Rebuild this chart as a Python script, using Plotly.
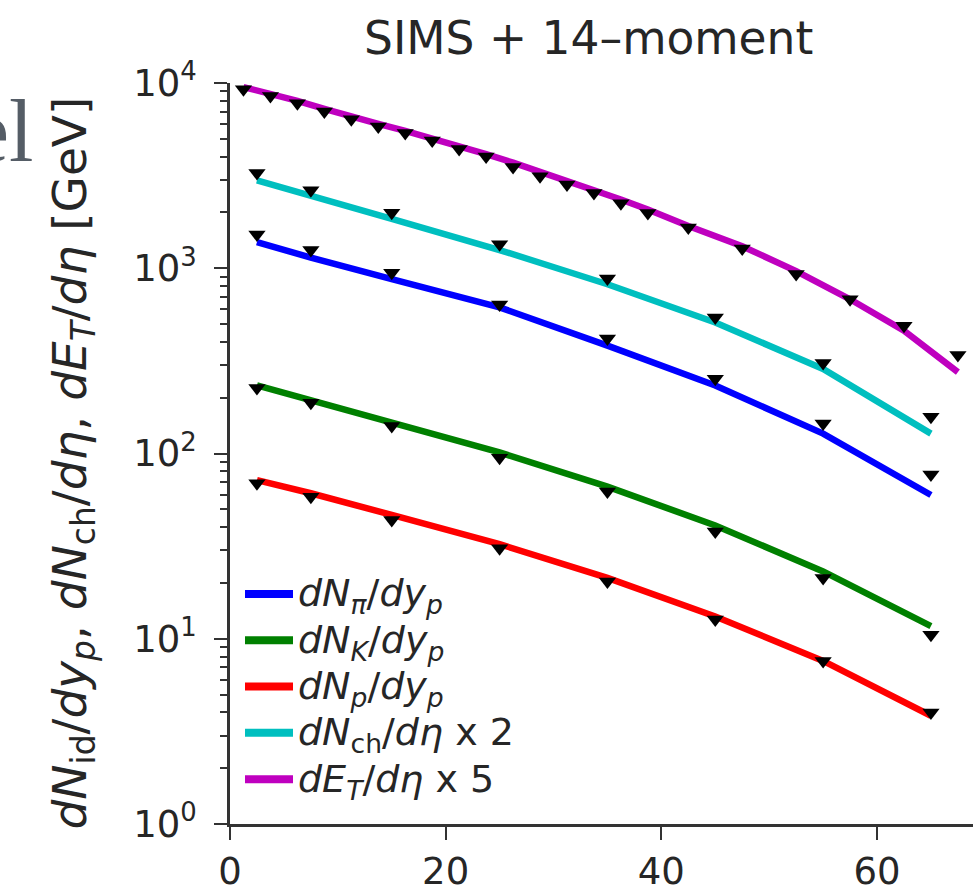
import numpy as np
import plotly.graph_objects as go

# Centrality (%) bin centres
cent_et = [1.25, 3.75, 6.25, 8.75, 11.25, 13.75, 16.25, 18.75, 21.25, 23.75, 26.25,
           28.75, 31.25, 33.75, 36.25, 38.75, 42.5, 47.5, 52.5, 57.5, 62.5, 67.5]
cent = [2.5, 7.5, 15, 25, 35, 45, 55, 65]

# Measured values
data_pi = [1523, 1254, 946, 637, 418, 253, 145, 77]
data_k = [225.6, 188, 140.9, 94.8, 62.3, 37.9, 21.3, 10.5]
data_p = [69.0, 58.5, 43.8, 30.8, 20.4, 12.7, 7.59, 4.0]
data_ch = [1635, 1318, 997, 673, 440, 271, 154, 79]
data_et = [1850, 1702, 1556, 1402, 1276, 1164, 1074, 980, 880, 802, 704,
           628, 566, 510, 448, 398, 332, 256, 186, 136, 98, 68]

# SIMS + 14-moment model curves
model_pi = [1385, 1141, 873, 615, 382, 233, 128, 59.7]
model_k = [233, 193.4, 146.8, 101.3, 66.2, 40.9, 23.1, 11.7]
model_p = [71.9, 61.0, 46.6, 32.4, 21.3, 13.2, 7.59, 3.84]
model_ch = [1492, 1224, 925, 627, 410, 255, 143, 64]
model_et = [1902, 1756, 1601, 1450, 1313, 1204, 1104, 1006, 911, 825, 743,
            665, 595, 532, 470, 415, 338, 263, 193, 136, 92, 55]

ch_scale = 2
et_scale = 5

FONT = "DejaVu Sans"
TXT = "#262626"
AX = "#333333"

series = [
    ("<i>dN</i><sub><i>π</i></sub>/<i>dy</i><sub><i>p</i></sub>", cent, model_pi, data_pi, 1, "#0000ff"),
    ("<i>dN</i><sub><i>K</i></sub>/<i>dy</i><sub><i>p</i></sub>", cent, model_k, data_k, 1, "#008000"),
    ("<i>dN</i><sub><i>p</i></sub>/<i>dy</i><sub><i>p</i></sub>", cent, model_p, data_p, 1, "#ff0000"),
    ("<i>dN</i><sub>ch</sub>/<i>dη</i> x 2", cent, model_ch, data_ch, ch_scale, "#00bfbf"),
    ("<i>dE</i><sub><i>T</i></sub>/<i>dη</i> x 5", cent_et, model_et, data_et, et_scale, "#bf00bf"),
]

fig = go.Figure()

# model curves first, measured points on top
for name, x, model, _, scale, color in series:
    fig.add_trace(go.Scatter(
        x=x, y=np.array(model) * scale, mode="lines", name=name,
        line=dict(color=color, width=6.5), showlegend=False,
    ))

for name, x, _, data, scale, color in series:
    fig.add_trace(go.Scatter(
        x=x, y=np.array(data) * scale, mode="markers", showlegend=False,
        marker=dict(symbol="triangle-down", size=15, color="black", line=dict(width=0)),
        cliponaxis=False,
    ))

# hand-laid legend in the lower-left corner of the axes (paper coordinates)
W, H = 743, 744
def px_x(p):
    return (p - 230) / W
def px_y(p):
    return (827 - p) / H

shapes, annotations = [], []
for i, (name, _, _, _, _, color) in enumerate(series):
    row = 596 + 46.5 * i
    shapes.append(dict(type="line", xref="paper", yref="paper",
                       x0=px_x(245), x1=px_x(293), y0=px_y(row), y1=px_y(row),
                       line=dict(color=color, width=8)))
    annotations.append(dict(text=name, xref="paper", yref="paper",
                            x=px_x(296), y=px_y(row + 2), xanchor="left", yanchor="middle",
                            showarrow=False, font=dict(family=FONT, size=38, color=TXT)))

annotations += [
    dict(text="SIMS + 14–moment", xref="paper", yref="paper",
         x=px_x(588), y=px_y(38), xanchor="center", yanchor="middle",
         showarrow=False, font=dict(family=FONT, size=45.5, color=TXT)),
    dict(text="<i>dN</i><sub>id</sub>/<i>dy</i><sub><i>p</i></sub>, <i>dN</i><sub>ch</sub>/<i>dη</i>, "
              "<i>dE</i><sub><i>T</i></sub>/<i>dη</i> [GeV]",
         xref="paper", yref="paper", textangle=-90,
         x=px_x(73), y=px_y(465), xanchor="center", yanchor="middle",
         showarrow=False, font=dict(family=FONT, size=47, color=TXT)),
    dict(text="el", xref="paper", yref="paper",
         x=px_x(36), y=px_y(132), xanchor="right", yanchor="middle",
         showarrow=False, font=dict(family="Liberation Serif", size=88, color="#555d66")),
]

minor_vals = [m * 10 ** e for e in range(0, 4) for m in range(2, 10)]

fig.update_layout(
    width=973, height=893,
    margin=dict(l=230, r=0, t=83, b=66),
    paper_bgcolor="white", plot_bgcolor="white",
    font=dict(family=FONT, color=TXT),
    showlegend=False,
    xaxis=dict(
        range=[0, 68.9], tickvals=[0, 20, 40, 60],
        showline=True, linecolor=AX, linewidth=2.5,
        ticks="outside", ticklen=13, tickwidth=2, tickcolor=AX,
        tickfont=dict(family=FONT, size=37, color=TXT),
        showgrid=False, zeroline=False,
    ),
    yaxis=dict(
        type="log", range=[0, 4],
        tickvals=[1, 10, 100, 1000, 10000],
        ticktext=["10<sup>0</sup>", "10<sup>1</sup>", "10<sup>2</sup>", "10<sup>3</sup>", "10<sup>4</sup>"],
        showline=True, linecolor=AX, linewidth=2.5,
        ticks="outside", ticklen=13, tickwidth=2, tickcolor=AX,
        tickfont=dict(family=FONT, size=37, color=TXT),
        ticklabelstandoff=10,
        minor=dict(tickvals=minor_vals, ticks="outside", ticklen=7, tickwidth=1.5, tickcolor=AX),
        showgrid=False, zeroline=False,
    ),
    shapes=shapes,
    annotations=annotations,
)

fig.write_html("out.html")
